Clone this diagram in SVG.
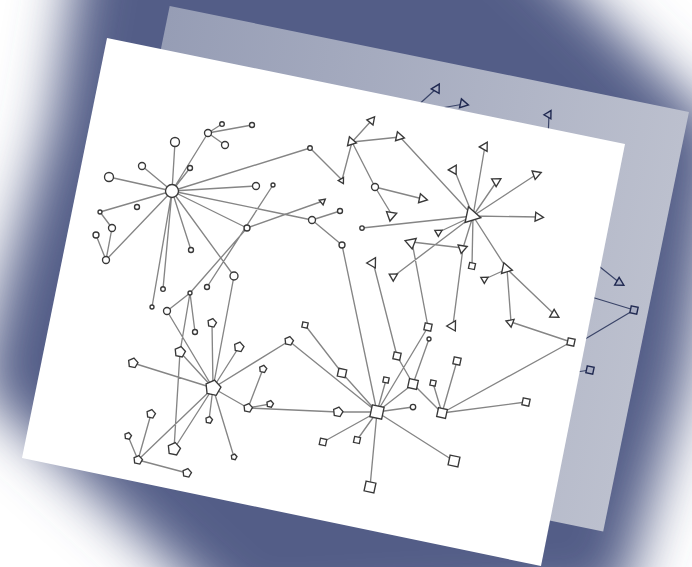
<svg xmlns="http://www.w3.org/2000/svg" xmlns:xlink="http://www.w3.org/1999/xlink" width="692" height="567" viewBox="0 0 692 567">
<style>
.ln{stroke:#858585;stroke-width:1.35;fill:none;stroke-linecap:round}
.bl{stroke:#3a4468;stroke-width:1.2;fill:none}
.nd{fill:#fff;stroke:#383838;stroke-width:1.35;vector-effect:non-scaling-stroke}
.bn{fill:#a9aec2;stroke:#1f2850;stroke-width:1.4;vector-effect:non-scaling-stroke}
</style>
<defs>
<filter id="blur" x="-30%" y="-30%" width="160%" height="160%"><feGaussianBlur stdDeviation="27"/></filter>
<linearGradient id="bp" x1="0" y1="0" x2="1" y2="0"><stop offset="0" stop-color="#969db5"/><stop offset="1" stop-color="#bcc0ce"/></linearGradient>
<rect id="sq" class="nd" x="-1" y="-1" width="2" height="2"/>
<path id="pg" class="nd" d="M0,-1 L0.951,-0.309 L0.588,0.809 L-0.588,0.809 L-0.951,-0.309 Z"/>
<path id="tr" class="nd" d="M-0.8,-1 L1,0 L-0.8,1 Z"/>
<path id="btr" class="bn" d="M-0.8,-1 L1,0 L-0.8,1 Z"/>
<rect id="bsq" class="bn" x="-1" y="-1" width="2" height="2"/>
</defs>
<rect width="692" height="567" fill="#ffffff"/>
<g id="vignette">
<polygon points="85,-80 500,-80 722,130 700,300 688,380 620,605 240,625 -20,390 2,290 52,120" fill="#535d87" filter="url(#blur)"/>
</g>
<g id="back-page" transform="translate(107,38) rotate(11.56)">
<rect x="55" y="-44" width="530" height="428" fill="url(#bp)"/>
</g>
<g id="back-graph">
<path class="bl" d="M437,88 L415,108 M464,104 L430,110 M549,114 L548,140 M620,283 L585,255 M634,310 L575,292 M634,310 L570,348 M590,370 L570,373"/>
<use href="#btr" transform="translate(437,88) rotate(-60) scale(4.5)"/>
<use href="#btr" transform="translate(464,104) rotate(12) scale(4.5)"/>
<use href="#btr" transform="translate(549,114) rotate(-60) scale(4)"/>
<use href="#btr" transform="translate(620,283) rotate(30) scale(4.5)"/>
<use href="#bsq" transform="translate(634,310) rotate(12) scale(3.5)"/>
<use href="#bsq" transform="translate(590,370) rotate(12) scale(3.5)"/>
</g>
<g id="front-page">
<polygon points="107,38 625,144 541,566 22,458" fill="#ffffff"/>
</g>
<g id="connectors">
<path class="ln" d="
M172,191 L175,142 M172,191 L208,133 M208,133 L222,124 M208,133 L252,125 M208,133 L225,145
M172,191 L190,168 M172,191 L142,166 M172,191 L109,177 M172,191 L256,186 M172,191 L310,148
M172,191 L312,220 M172,191 L247,228 M172,191 L234,276 M172,191 L191,250 M172,191 L152,307 M172,191 L163,289
M247,228 L323,201 M312,220 L340,211 M312,220 L342,245
M172,191 L100,212 M100,212 L112,228 M112,228 L106,260 M96,235 L106,260 M106,260 L172,191
M273,185 L207,287 M247,228 L190,293 M190,293 L167,311 M190,293 L195,332 M190,293 L180,352
M167,311 L213,388 M180,352 L174,449 M234,276 L213,388
M310,148 L342,180 M342,180 L352,142 M352,142 L372,120 M352,142 L400,137 M352,142 L375,187
M375,187 L423,199 M375,187 L392,215 M400,137 L473,216
M473,216 L485,146 M473,216 L454,169 M473,216 L497,181 M473,216 L537,174 M473,216 L539,217
M473,216 L362,228 M473,216 L439,232 M473,216 L463,248 M473,216 L472,266 M473,216 L394,276 M473,216 L507,269
M507,269 L485,279 M507,269 L555,315 M507,269 L511,322 M463,248 L412,242 M463,248 L453,325
M412,242 L428,327 M373,262 L397,356 M511,322 L571,342
M377,412 L342,245 M377,412 L428,327 M429,339 L413,384 M377,412 L413,384 M377,412 L386,380 M377,412 L413,407
M377,412 L454,461 M377,412 L370,487 M377,412 L323,442 M377,412 L357,440 M377,412 L342,373 M377,412 L338,412
M377,412 L289,341 M342,373 L305,325 M397,356 L413,384 M413,384 L442,413
M442,413 L433,383 M442,413 L457,361 M442,413 L526,402 M442,413 L571,342
M213,388 L212,323 M213,388 L239,347 M213,388 L133,363 M213,388 L180,352 M213,388 L289,341 M213,388 L248,408
M213,388 L209,420 M213,388 L234,457 M213,388 L174,449 M213,388 L138,460
M248,408 L263,369 M248,408 L270,404 M248,408 L338,412
M138,460 L128,436 M138,460 L151,414 M138,460 L187,473"/>
</g>
<g id="circle-nodes">
<g id="c0"><circle class="nd" cx="172" cy="191" r="6.5"/></g>
<g id="c1"><circle class="nd" cx="175" cy="142" r="4.5"/></g>
<g id="c2"><circle class="nd" cx="208" cy="133" r="3.5"/></g>
<g id="c3"><circle class="nd" cx="222" cy="124" r="2.3"/></g>
<g id="c4"><circle class="nd" cx="252" cy="125" r="2.5"/></g>
<g id="c5"><circle class="nd" cx="225" cy="145" r="3.5"/></g>
<g id="c6"><circle class="nd" cx="190" cy="168" r="2.5"/></g>
<g id="c7"><circle class="nd" cx="142" cy="166" r="3.5"/></g>
<g id="c8"><circle class="nd" cx="109" cy="177" r="4.5"/></g>
<g id="c9"><circle class="nd" cx="256" cy="186" r="3.5"/></g>
<g id="c10"><circle class="nd" cx="310" cy="148" r="2.3"/></g>
<g id="c11"><circle class="nd" cx="312" cy="220" r="3.5"/></g>
<g id="c12"><circle class="nd" cx="340" cy="211" r="2.5"/></g>
<g id="c13"><circle class="nd" cx="247" cy="228" r="3"/></g>
<g id="c15"><circle class="nd" cx="234" cy="276" r="4"/></g>
<g id="c16"><circle class="nd" cx="191" cy="250" r="2.5"/></g>
<g id="c17"><circle class="nd" cx="152" cy="307" r="2"/></g>
<g id="c18"><circle class="nd" cx="163" cy="289" r="2.3"/></g>
<g id="c19"><circle class="nd" cx="273" cy="185" r="2"/></g>
<g id="c20"><circle class="nd" cx="207" cy="287" r="2.5"/></g>
<g id="c21"><circle class="nd" cx="190" cy="293" r="2"/></g>
<g id="c22"><circle class="nd" cx="167" cy="311" r="3.5"/></g>
<g id="c23"><circle class="nd" cx="195" cy="332" r="2.5"/></g>
<g id="c24"><circle class="nd" cx="342" cy="245" r="3"/></g>
<g id="c25"><circle class="nd" cx="100" cy="212" r="2"/></g>
<g id="c26"><circle class="nd" cx="112" cy="228" r="3.5"/></g>
<g id="c27"><circle class="nd" cx="96" cy="235" r="3"/></g>
<g id="c28"><circle class="nd" cx="106" cy="260" r="3.5"/></g>
<g id="c29"><circle class="nd" cx="137" cy="207" r="2.5"/></g>
<g id="t4"><circle class="nd" cx="375" cy="187" r="3.5"/></g>
<g id="T6"><circle class="nd" cx="362" cy="228" r="2.2"/></g>
<g id="s2"><circle class="nd" cx="429" cy="339" r="2"/></g>
<g id="s6"><circle class="nd" cx="413" cy="407" r="2.7"/></g>
</g>
<g id="square-nodes">
<g id="S"><use href="#sq" transform="translate(377,412) rotate(12) scale(6)"/></g>
<g id="s1"><use href="#sq" transform="translate(428,327) rotate(12) scale(3.5)"/></g>
<g id="s3"><use href="#sq" transform="translate(397,356) rotate(12) scale(3.5)"/></g>
<g id="s4"><use href="#sq" transform="translate(413,384) rotate(12) scale(4.5)"/></g>
<g id="s5"><use href="#sq" transform="translate(386,380) rotate(12) scale(2.7)"/></g>
<g id="s7"><use href="#sq" transform="translate(442,413) rotate(12) scale(4.5)"/></g>
<g id="s8"><use href="#sq" transform="translate(433,383) rotate(12) scale(2.7)"/></g>
<g id="s9"><use href="#sq" transform="translate(457,361) rotate(12) scale(3.5)"/></g>
<g id="s10"><use href="#sq" transform="translate(526,402) rotate(12) scale(3.5)"/></g>
<g id="s11"><use href="#sq" transform="translate(571,342) rotate(12) scale(3.5)"/></g>
<g id="s12"><use href="#sq" transform="translate(454,461) rotate(12) scale(5)"/></g>
<g id="s13"><use href="#sq" transform="translate(370,487) rotate(12) scale(5)"/></g>
<g id="s14"><use href="#sq" transform="translate(323,442) rotate(12) scale(3.2)"/></g>
<g id="s15"><use href="#sq" transform="translate(357,440) rotate(12) scale(3)"/></g>
<g id="s16"><use href="#sq" transform="translate(305,325) rotate(12) scale(2.7)"/></g>
<g id="s17"><use href="#sq" transform="translate(342,373) rotate(12) scale(4)"/></g>
<g id="T9"><use href="#sq" transform="translate(472,266) rotate(12) scale(3)"/></g>
</g>
<g id="pentagon-nodes">
<g id="P"><use href="#pg" transform="translate(213,388) rotate(12) scale(8)"/></g>
<g id="p2"><use href="#pg" transform="translate(212,323) rotate(12) scale(4.5)"/></g>
<g id="p3"><use href="#pg" transform="translate(239,347) rotate(12) scale(5)"/></g>
<g id="p4"><use href="#pg" transform="translate(133,363) rotate(12) scale(5)"/></g>
<g id="p5"><use href="#pg" transform="translate(180,352) rotate(12) scale(5.5)"/></g>
<g id="p7"><use href="#pg" transform="translate(289,341) rotate(12) scale(4.5)"/></g>
<g id="p8"><use href="#pg" transform="translate(263,369) rotate(12) scale(3.8)"/></g>
<g id="p9"><use href="#pg" transform="translate(248,408) rotate(12) scale(4.5)"/></g>
<g id="p10"><use href="#pg" transform="translate(270,404) rotate(12) scale(3.5)"/></g>
<g id="p11"><use href="#pg" transform="translate(338,412) rotate(12) scale(5)"/></g>
<g id="p12"><use href="#pg" transform="translate(209,420) rotate(12) scale(3.5)"/></g>
<g id="p13"><use href="#pg" transform="translate(234,457) rotate(12) scale(3)"/></g>
<g id="p14"><use href="#pg" transform="translate(174,449) rotate(12) scale(6.5)"/></g>
<g id="p15"><use href="#pg" transform="translate(138,460) rotate(12) scale(4.5)"/></g>
<g id="p16"><use href="#pg" transform="translate(128,436) rotate(12) scale(3.5)"/></g>
<g id="p17"><use href="#pg" transform="translate(151,414) rotate(12) scale(4.5)"/></g>
<g id="p18"><use href="#pg" transform="translate(187,473) rotate(12) scale(4.5)"/></g>
</g>
<g id="triangle-nodes">
<g id="c14"><use href="#tr" transform="translate(323,201) rotate(-40) scale(3)"/></g>
<g id="t0"><use href="#tr" transform="translate(342,180) rotate(-60) scale(3)"/></g>
<g id="t1"><use href="#tr" transform="translate(352,142) rotate(12) scale(4.5)"/></g>
<g id="t2"><use href="#tr" transform="translate(372,120) rotate(-50) scale(4)"/></g>
<g id="t3"><use href="#tr" transform="translate(400,137) rotate(12) scale(4.5)"/></g>
<g id="t5"><use href="#tr" transform="translate(423,199) rotate(12) scale(4.5)"/></g>
<g id="t6"><use href="#tr" transform="translate(392,215) rotate(-20) scale(5)"/></g>
<g id="T"><use href="#tr" transform="translate(473,216) rotate(12) scale(8)"/></g>
<g id="T1"><use href="#tr" transform="translate(485,146) rotate(-60) scale(4.5)"/></g>
<g id="T2"><use href="#tr" transform="translate(454,169) rotate(-60) scale(4.5)"/></g>
<g id="T3"><use href="#tr" transform="translate(497,181) rotate(-30) scale(4.5)"/></g>
<g id="T4"><use href="#tr" transform="translate(537,174) rotate(-20) scale(4.5)"/></g>
<g id="T5"><use href="#tr" transform="translate(539,217) rotate(5) scale(4.5)"/></g>
<g id="T7"><use href="#tr" transform="translate(439,232) rotate(-30) scale(3.5)"/></g>
<g id="T8"><use href="#tr" transform="translate(463,248) rotate(-20) scale(4.5)"/></g>
<g id="T10"><use href="#tr" transform="translate(394,276) rotate(-30) scale(4)"/></g>
<g id="T11"><use href="#tr" transform="translate(507,269) rotate(12) scale(5.5)"/></g>
<g id="T12"><use href="#tr" transform="translate(485,279) rotate(-30) scale(3.5)"/></g>
<g id="T13"><use href="#tr" transform="translate(555,315) rotate(30) scale(4.5)"/></g>
<g id="T14"><use href="#tr" transform="translate(511,322) rotate(-40) scale(4)"/></g>
<g id="T15"><use href="#tr" transform="translate(453,325) rotate(-60) scale(5)"/></g>
<g id="T16"><use href="#tr" transform="translate(412,242) rotate(-40) scale(5.5)"/></g>
<g id="T17"><use href="#tr" transform="translate(373,262) rotate(-60) scale(5)"/></g>
</g>
</svg>
